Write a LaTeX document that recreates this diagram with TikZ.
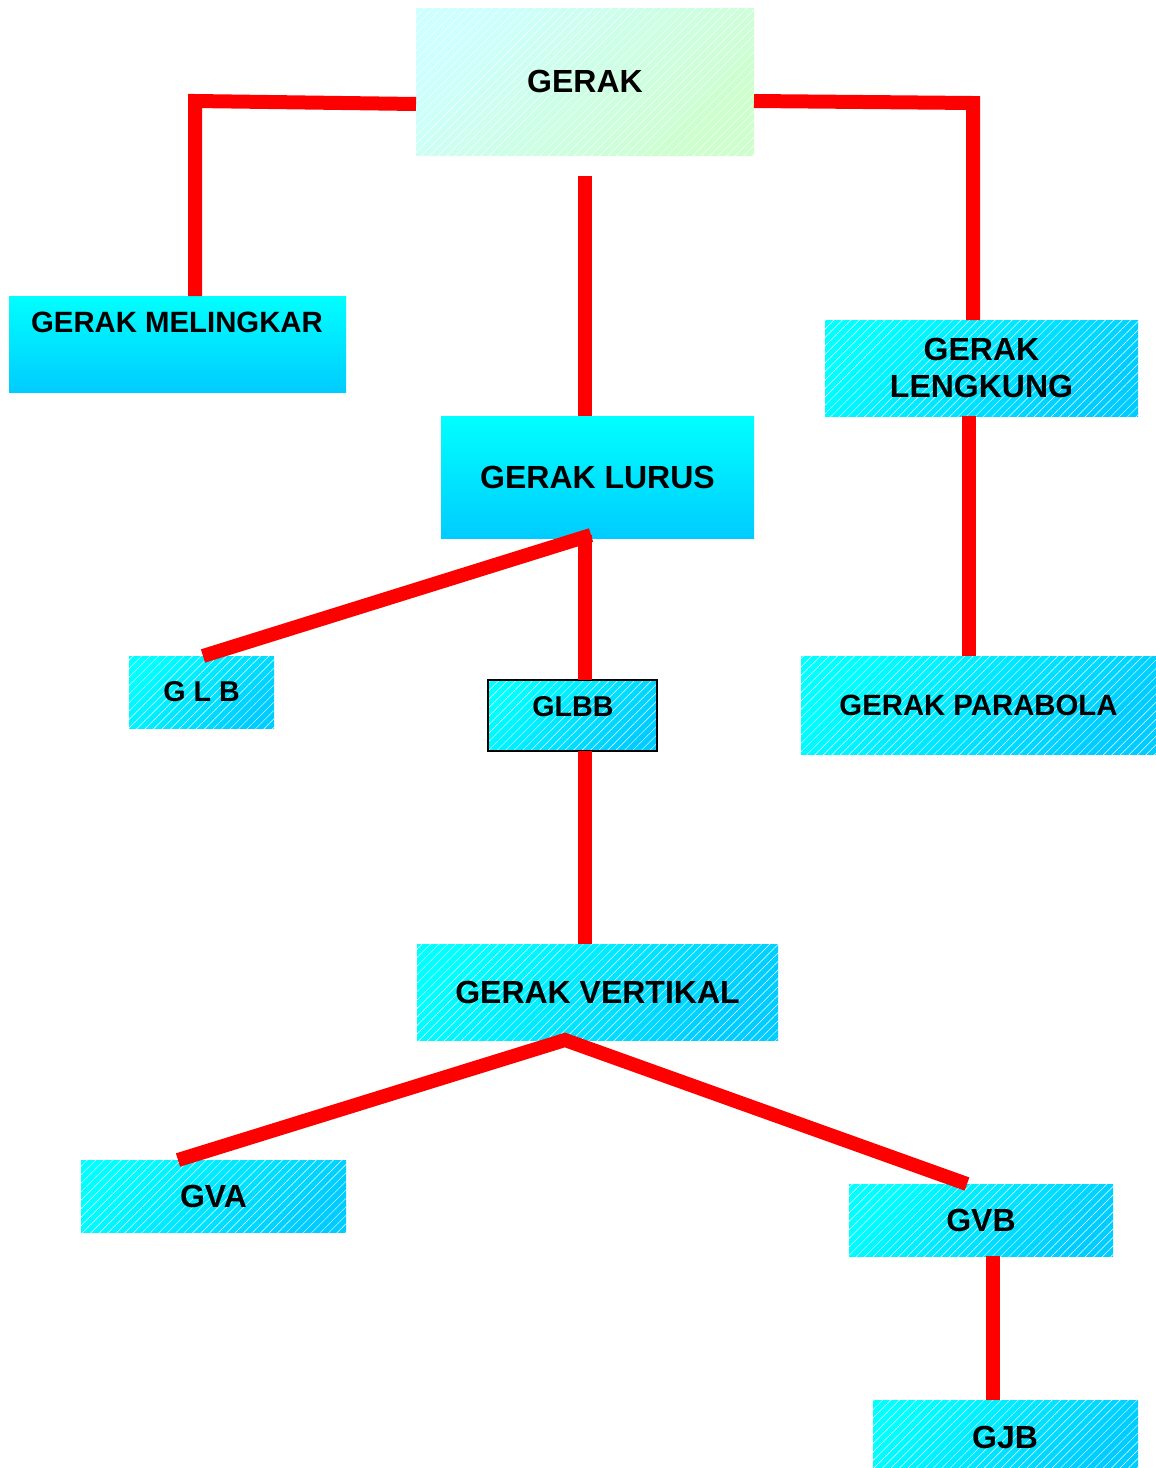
\documentclass[tikz,border=0pt]{standalone}
\usepackage{fontspec}
\setmainfont{Liberation Sans}
\usetikzlibrary{patterns.meta}
\definecolor{cyA}{HTML}{00FFFF}
\definecolor{cyB}{HTML}{00CCFF}
\definecolor{gA}{HTML}{CCFFFF}
\definecolor{gB}{HTML}{CCFFCC}
\definecolor{lineRed}{HTML}{FF0000}
\begin{document}
\begin{tikzpicture}[x=0.75pt,y=-0.75pt,
 boxbase/.style={inner sep=0pt, outer sep=0pt, font=\bfseries\fontsize{24}{27.75}\selectfont, align=center},
 stripes/.style={postaction={pattern={Lines[angle=45,distance=4.5pt,line width=0.35pt]}, pattern color=white, fill opacity=0.14}},
 vbox/.style={boxbase, top color=cyA, bottom color=cyB},
 hbox/.style={boxbase, top color=cyA, bottom color=cyB, shading angle=45, stripes},
 gbox/.style={boxbase, top color=gA, bottom color=gB, shading angle=45, stripes},
 txt/.style={inner sep=0pt, font=\bfseries\fontsize{24}{27.75}\selectfont},
 smalltxt/.style={font=\bfseries\fontsize{22}{26}\selectfont},
 conn/.style={draw=lineRed, line width=10.5pt, line cap=butt, line join=miter},
 sz/.style 2 args={minimum width=#1*0.75pt, minimum height=#2*0.75pt}
]
\useasboundingbox (0,0) rectangle (1156,1468);

% boxes
\node[gbox, sz={338}{147}] (gerak) at (585,81.5) {GERAK};
\node[vbox, sz={337}{96}] (melingkar) at (177.5,344) {};
\node[txt, smalltxt] (melingkartxt) at (177,322) {GERAK MELINGKAR};
\node[vbox, sz={313}{122}] (lurus) at (597.5,477) {GERAK LURUS};
\node[hbox, sz={313}{96}] (lengkung) at (981.5,368) {GERAK\\LENGKUNG};
\node[hbox, sz={145}{72}, font=\bfseries\fontsize{21.5}{26}\selectfont] (glb) at (201.5,692) {G L B};
\node[hbox, sz={169}{71}, postaction={draw=black, line width=1.5pt}] (glbb) at (572.5,715.5) {};
\node[txt, font=\bfseries\fontsize{21.5}{26}\selectfont] (glbbtxt) at (573,707) {GLBB};
\node[hbox, sz={355}{98}, smalltxt] (parabola) at (978.5,705) {GERAK PARABOLA};
\node[hbox, sz={361}{96}] (vertikal) at (597.5,992) {GERAK VERTIKAL};
\node[hbox, sz={265}{72}] (gva) at (213.5,1196) {GVA};
\node[hbox, sz={264}{72}] (gvb) at (981,1220) {GVB};
\node[hbox, sz={265}{67}] (gjb) at (1005.5,1433.5) {};
\node[txt] (gjbtxt) at (1005,1437) {GJB};

% connector helper coordinates
\coordinate (lc) at (195,101);
\coordinate (rc) at (973,103);
\coordinate (cs) at (585,176);
\coordinate (lp) at (969,0);
\coordinate (gl) at (203,0);
\coordinate (lj) at (591,535);
\coordinate (lv) at (585,535);
\coordinate (va) at (565,1040);
\coordinate (a1) at (178,0);
\coordinate (b1) at (967,0);
\coordinate (jx) at (993,0);

% connectors
\draw[conn] ([yshift=-22.5*0.75pt]gerak.west) -- (lc) -- (lc |- melingkar.north);
\draw[conn] ([yshift=-19.5*0.75pt]gerak.east) -- (rc) -- (rc |- lengkung.north);
\draw[conn] (cs) -- (cs |- lurus.north);
\draw[conn] (lengkung.south -| lp) -- (parabola.north -| lp);
\draw[conn] (glb.north -| gl) -- (lj);
\draw[conn] (lv) -- (glbb.north -| lv);
\draw[conn] (glbb.south -| lv) -- (vertikal.north -| lv);
\draw[conn] (gva.north -| a1) -- (va) -- (gvb.north -| b1);
\draw[conn] (gvb.south -| jx) -- (gjb.north -| jx);
\end{tikzpicture}
\end{document}
